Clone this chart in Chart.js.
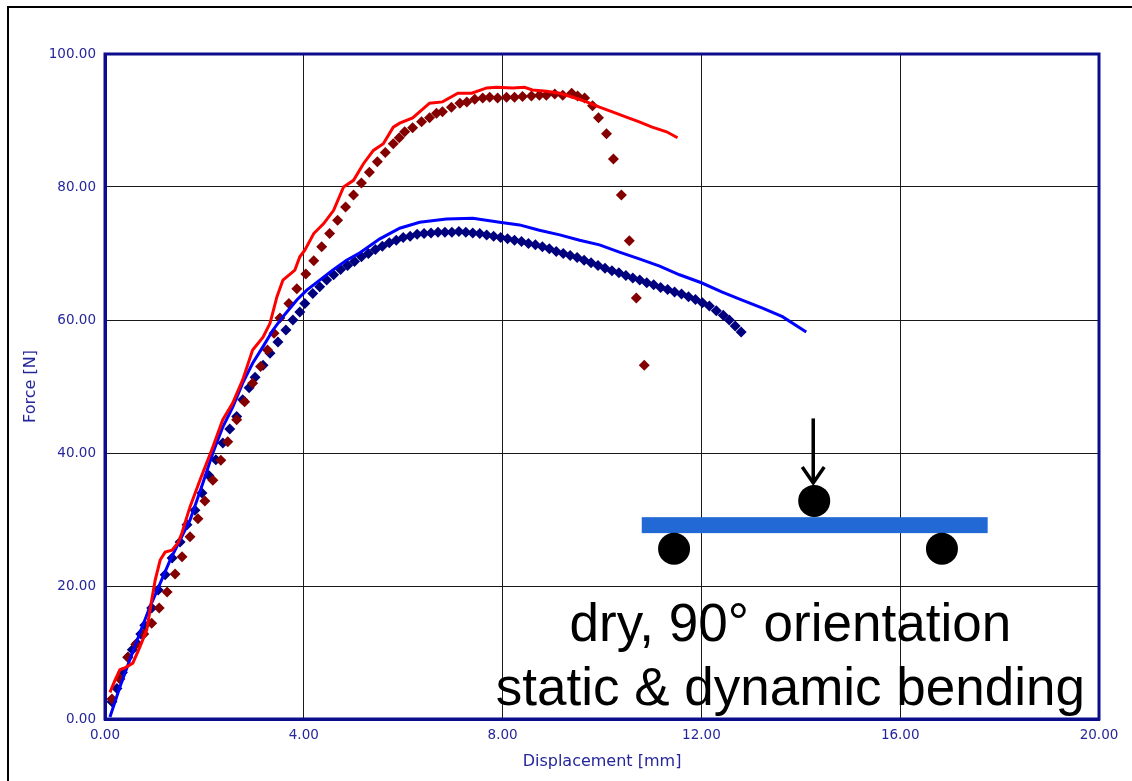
<!DOCTYPE html>
<html>
<head>
<meta charset="utf-8">
<script src="https://cdn.jsdelivr.net/npm/chart.js@4.4.1/dist/chart.umd.min.js"></script>
<style>
  html, body { margin: 0; padding: 0; background: #ffffff; }
  #wrap { width: 1132px; height: 781px; position: relative; }
</style>
</head>
<body>
<div id="wrap"><canvas id="c" width="1132" height="781"></canvas></div>
<script>
// Bending test, dry specimens, 90° orientation: force vs. displacement

// Static bending, specimen A (solid red)
const staticRedX = [0.10,0.20,0.30,0.40,0.56,0.70,0.84,0.94,1.01,1.11,1.21,1.35,1.47,1.55,1.61,1.71,1.91,2.17,2.37,2.57,2.77,2.97,3.18,3.32,3.46,3.58,3.82,3.92,4.02,4.20,4.40,4.60,4.80,5.00,5.20,5.40,5.60,5.80,5.93,6.19,6.53,6.79,7.10,7.38,7.68,7.88,8.20,8.44,8.60,8.88,9.15,9.41,9.69,9.95,10.21,10.49,10.75,11.01,11.30,11.52];
const staticRedY = [4.0,5.8,7.4,7.7,8.4,10.8,13.4,17.9,20.9,23.9,25.1,25.4,26.5,28.0,29.5,31.9,35.9,40.9,45.0,47.5,51.0,55.5,57.4,59.5,63.5,66.0,67.5,69.5,70.5,73.0,74.5,76.5,80.0,81.0,83.5,85.5,86.5,89.0,89.6,90.4,92.6,92.8,94.1,94.1,94.9,95.0,94.9,95.0,94.6,94.4,94.1,93.5,92.8,92.0,91.3,90.5,89.8,89.0,88.3,87.4];

// Static bending, specimen B (solid blue)
const staticBlueX = [0.10,0.30,0.50,0.70,0.90,1.11,1.31,1.51,1.71,1.85,1.97,2.17,2.37,2.57,2.77,2.97,3.18,3.38,3.58,3.86,4.06,4.32,4.58,4.86,5.13,5.53,5.93,6.33,6.87,7.40,7.94,8.34,8.74,9.15,9.55,9.95,10.35,10.75,11.16,11.56,12.00,12.42,12.82,13.23,13.63,14.11];
const staticBlueY = [0.3,4.8,8.9,12.9,16.8,20.4,23.9,26.9,29.9,32.9,35.5,40.0,43.9,46.9,50.5,53.5,56.0,58.5,60.5,63.0,64.5,66.0,67.5,69.0,70.1,72.2,73.8,74.7,75.2,75.3,74.7,74.3,73.5,72.8,72.0,71.3,70.2,69.2,68.1,66.8,65.6,64.2,63.0,61.8,60.5,58.2];

// Dynamic bending, specimen A (dark red diamonds)
const dynRedX = [0.14,0.30,0.46,0.62,0.78,0.94,1.09,1.25,1.41,1.55,1.71,1.87,2.01,2.17,2.33,2.47,2.65,2.81,2.97,3.13,3.27,3.40,3.52,3.70,3.86,4.04,4.20,4.36,4.52,4.68,4.84,5.00,5.16,5.32,5.48,5.64,5.80,5.92,6.03,6.19,6.37,6.53,6.67,6.79,6.97,7.14,7.28,7.44,7.60,7.74,7.90,8.08,8.24,8.40,8.58,8.74,8.88,9.05,9.21,9.39,9.51,9.65,9.81,9.93,10.09,10.23,10.39,10.55,10.69,10.85];
const dynRedY = [3.0,6.0,9.3,11.2,12.8,14.4,16.7,19.1,21.8,24.4,27.4,30.1,32.8,35.9,38.9,41.7,45.0,47.7,50.5,53.0,55.5,58.0,60.3,62.5,64.7,66.9,68.9,71.0,73.0,75.0,77.0,78.8,80.6,82.2,83.8,85.2,86.5,87.4,88.3,88.9,89.8,90.4,91.1,91.3,92.0,92.6,92.8,93.2,93.4,93.5,93.4,93.5,93.5,93.6,93.7,93.8,93.8,94.0,93.8,94.1,93.7,93.4,92.2,90.4,88.0,84.2,78.8,71.9,63.3,53.2];

// Dynamic bending, specimen B (navy diamonds)
const dynBlueX = [0.14,0.24,0.35,0.46,0.55,0.64,0.72,0.80,0.94,1.07,1.21,1.35,1.51,1.65,1.81,1.95,2.09,2.23,2.37,2.51,2.65,2.77,2.90,3.02,3.18,3.32,3.48,3.64,3.78,3.92,4.02,4.18,4.32,4.46,4.60,4.74,4.88,5.02,5.16,5.30,5.44,5.58,5.72,5.86,6.00,6.14,6.28,6.42,6.56,6.70,6.84,6.98,7.12,7.26,7.40,7.54,7.68,7.82,7.96,8.10,8.24,8.38,8.52,8.66,8.80,8.94,9.08,9.22,9.36,9.50,9.64,9.78,9.92,10.06,10.20,10.34,10.48,10.62,10.76,10.90,11.04,11.18,11.32,11.46,11.60,11.74,11.88,12.02,12.16,12.30,12.44,12.56,12.68,12.80];
const dynBlueY = [2.6,4.6,7.0,9.3,10.4,11.4,12.8,14.1,16.7,19.4,21.7,24.2,26.6,29.2,31.4,34.0,36.6,39.0,41.5,43.6,45.5,48.0,49.8,51.4,53.2,55.0,56.7,58.5,60.0,61.2,62.5,64.0,65.0,66.0,66.8,67.6,68.2,68.8,69.5,70.0,70.6,71.1,71.6,72.0,72.4,72.6,72.9,73.0,73.1,73.2,73.2,73.2,73.3,73.2,73.1,73.0,72.8,72.6,72.4,72.2,72.0,71.8,71.5,71.3,71.0,70.7,70.3,70.0,69.7,69.4,69.0,68.6,68.2,67.8,67.4,67.1,66.7,66.3,66.0,65.6,65.3,64.9,64.6,64.2,63.9,63.5,63.1,62.6,62.1,61.4,60.7,60.0,59.1,58.2];

// Axis setup
const xTicks = [0, 4, 8, 12, 16, 20];
const yTicks = [0, 20, 40, 60, 80, 100];
const xTitle = 'Displacement [mm]';
const yTitle = 'Force [N]';
const captionLines = ['dry, 90° orientation', 'static & dynamic bending'];

const NAVY = '#0c0c8e';
const LABEL = '#25259c';

const pairs = (xs, ys) => xs.map((x, i) => ({ x: x, y: ys[i] }));

// Frame of the panel, box around the plot area, beam sketch and caption
const decorations = {
  id: 'decorations',
  beforeDraw(chart) {
    const ctx = chart.ctx;
    ctx.save();
    ctx.fillStyle = '#ffffff';
    ctx.fillRect(0, 0, chart.width, chart.height);
    ctx.strokeStyle = '#000000';
    ctx.lineWidth = 2;
    ctx.beginPath();
    ctx.moveTo(8, chart.height);
    ctx.lineTo(8, 7);
    ctx.lineTo(chart.width, 7);
    ctx.stroke();
    ctx.restore();
  },
  afterDraw(chart) {
    const ctx = chart.ctx;
    const a = chart.chartArea;
    const xs = chart.scales.x, ys = chart.scales.y;
    ctx.save();
    // box around plot area
    ctx.strokeStyle = NAVY;
    ctx.lineWidth = 3;
    ctx.strokeRect(a.left, a.top, a.right - a.left, a.bottom - a.top);

    // three-point bending sketch (placed in data units)
    const px = v => xs.getPixelForValue(v);
    const py = v => ys.getPixelForValue(v);
    const beamL = px(10.80), beamR = px(17.76);
    const beamT = py(30.35), beamB = py(27.95);
    ctx.fillStyle = '#2369d6';
    ctx.fillRect(beamL, beamT, beamR - beamL, beamB - beamT);

    const r = 16;
    ctx.fillStyle = '#000000';
    [[11.45, 25.6], [16.84, 25.6], [14.27, 32.8]].forEach(([cx, cy]) => {
      ctx.beginPath();
      ctx.arc(px(cx), py(cy), r, 0, Math.PI * 2);
      ctx.fill();
    });

    // load arrow
    const ax = px(14.25);
    const aTop = py(45.2), aTip = py(35.5);
    ctx.strokeStyle = '#000000';
    ctx.lineWidth = 3.5;
    ctx.lineCap = 'butt';
    ctx.beginPath();
    ctx.moveTo(ax, aTop);
    ctx.lineTo(ax, aTip);
    ctx.stroke();
    ctx.lineJoin = 'miter';
    ctx.beginPath();
    ctx.moveTo(ax - 11, aTip - 16);
    ctx.lineTo(ax, aTip);
    ctx.lineTo(ax + 11, aTip - 16);
    ctx.stroke();

    // caption
    ctx.fillStyle = '#000000';
    ctx.font = '53px "Liberation Sans", Arial, sans-serif';
    ctx.textAlign = 'center';
    ctx.textBaseline = 'alphabetic';
    const cx = px(13.79);
    ctx.fillText(captionLines[0], cx, py(11.7));
    ctx.fillText(captionLines[1], cx, py(2.1));
    ctx.restore();
  }
};

new Chart(document.getElementById('c'), {
  type: 'scatter',
  data: {
    datasets: [
      {
        label: 'static A',
        data: pairs(staticRedX, staticRedY),
        showLine: true,
        borderColor: '#ff0000',
        borderWidth: 3,
        pointRadius: 0,
        tension: 0
      },
      {
        label: 'static B',
        data: pairs(staticBlueX, staticBlueY),
        showLine: true,
        borderColor: '#0000ff',
        borderWidth: 3,
        pointRadius: 0,
        tension: 0
      },
      {
        label: 'dynamic A',
        data: pairs(dynRedX, dynRedY),
        showLine: false,
        pointStyle: 'rectRot',
        pointRadius: 5.5,
        backgroundColor: '#840000',
        borderColor: '#840000',
        borderWidth: 0
      },
      {
        label: 'dynamic B',
        data: pairs(dynBlueX, dynBlueY),
        showLine: false,
        pointStyle: 'rectRot',
        pointRadius: 5.5,
        backgroundColor: '#00007e',
        borderColor: '#00007e',
        borderWidth: 0
      }
    ]
  },
  options: {
    responsive: false,
    animation: false,
    events: [],
    layout: { padding: { top: 54, right: 33, left: 0, bottom: 0 } },
    plugins: {
      legend: { display: false },
      tooltip: { enabled: false }
    },
    scales: {
      x: {
        type: 'linear',
        min: 0,
        max: 20,
        afterBuildTicks: s => { s.ticks = xTicks.map(v => ({ value: v })); },
        afterFit: s => { s.height = 62; },
        ticks: {
          color: LABEL,
          font: { family: '"DejaVu Sans", Verdana, sans-serif', size: 13.5 },
          padding: 8,
          maxRotation: 0,
          callback: v => Number(v).toFixed(2)
        },
        grid: { color: '#1a1a1a', lineWidth: 1, drawTicks: false },
        border: { color: NAVY, width: 3 },
        title: {
          display: true,
          text: xTitle,
          color: LABEL,
          font: { family: '"DejaVu Sans", Verdana, sans-serif', size: 16 },
          padding: { top: 0, bottom: 10 }
        }
      },
      y: {
        type: 'linear',
        min: 0,
        max: 100,
        afterBuildTicks: s => { s.ticks = yTicks.map(v => ({ value: v })); },
        afterFit: s => { s.width = 105; },
        ticks: {
          color: LABEL,
          font: { family: '"DejaVu Sans", Verdana, sans-serif', size: 13.5 },
          padding: 9,
          callback: v => Number(v).toFixed(2)
        },
        grid: { color: '#1a1a1a', lineWidth: 1, drawTicks: false },
        border: { color: NAVY, width: 3 },
        title: {
          display: true,
          text: yTitle,
          color: LABEL,
          font: { family: '"DejaVu Sans", Verdana, sans-serif', size: 16 },
          padding: { top: 21, bottom: 0 }
        }
      }
    }
  },
  plugins: [decorations]
});
</script>
</body>
</html>
